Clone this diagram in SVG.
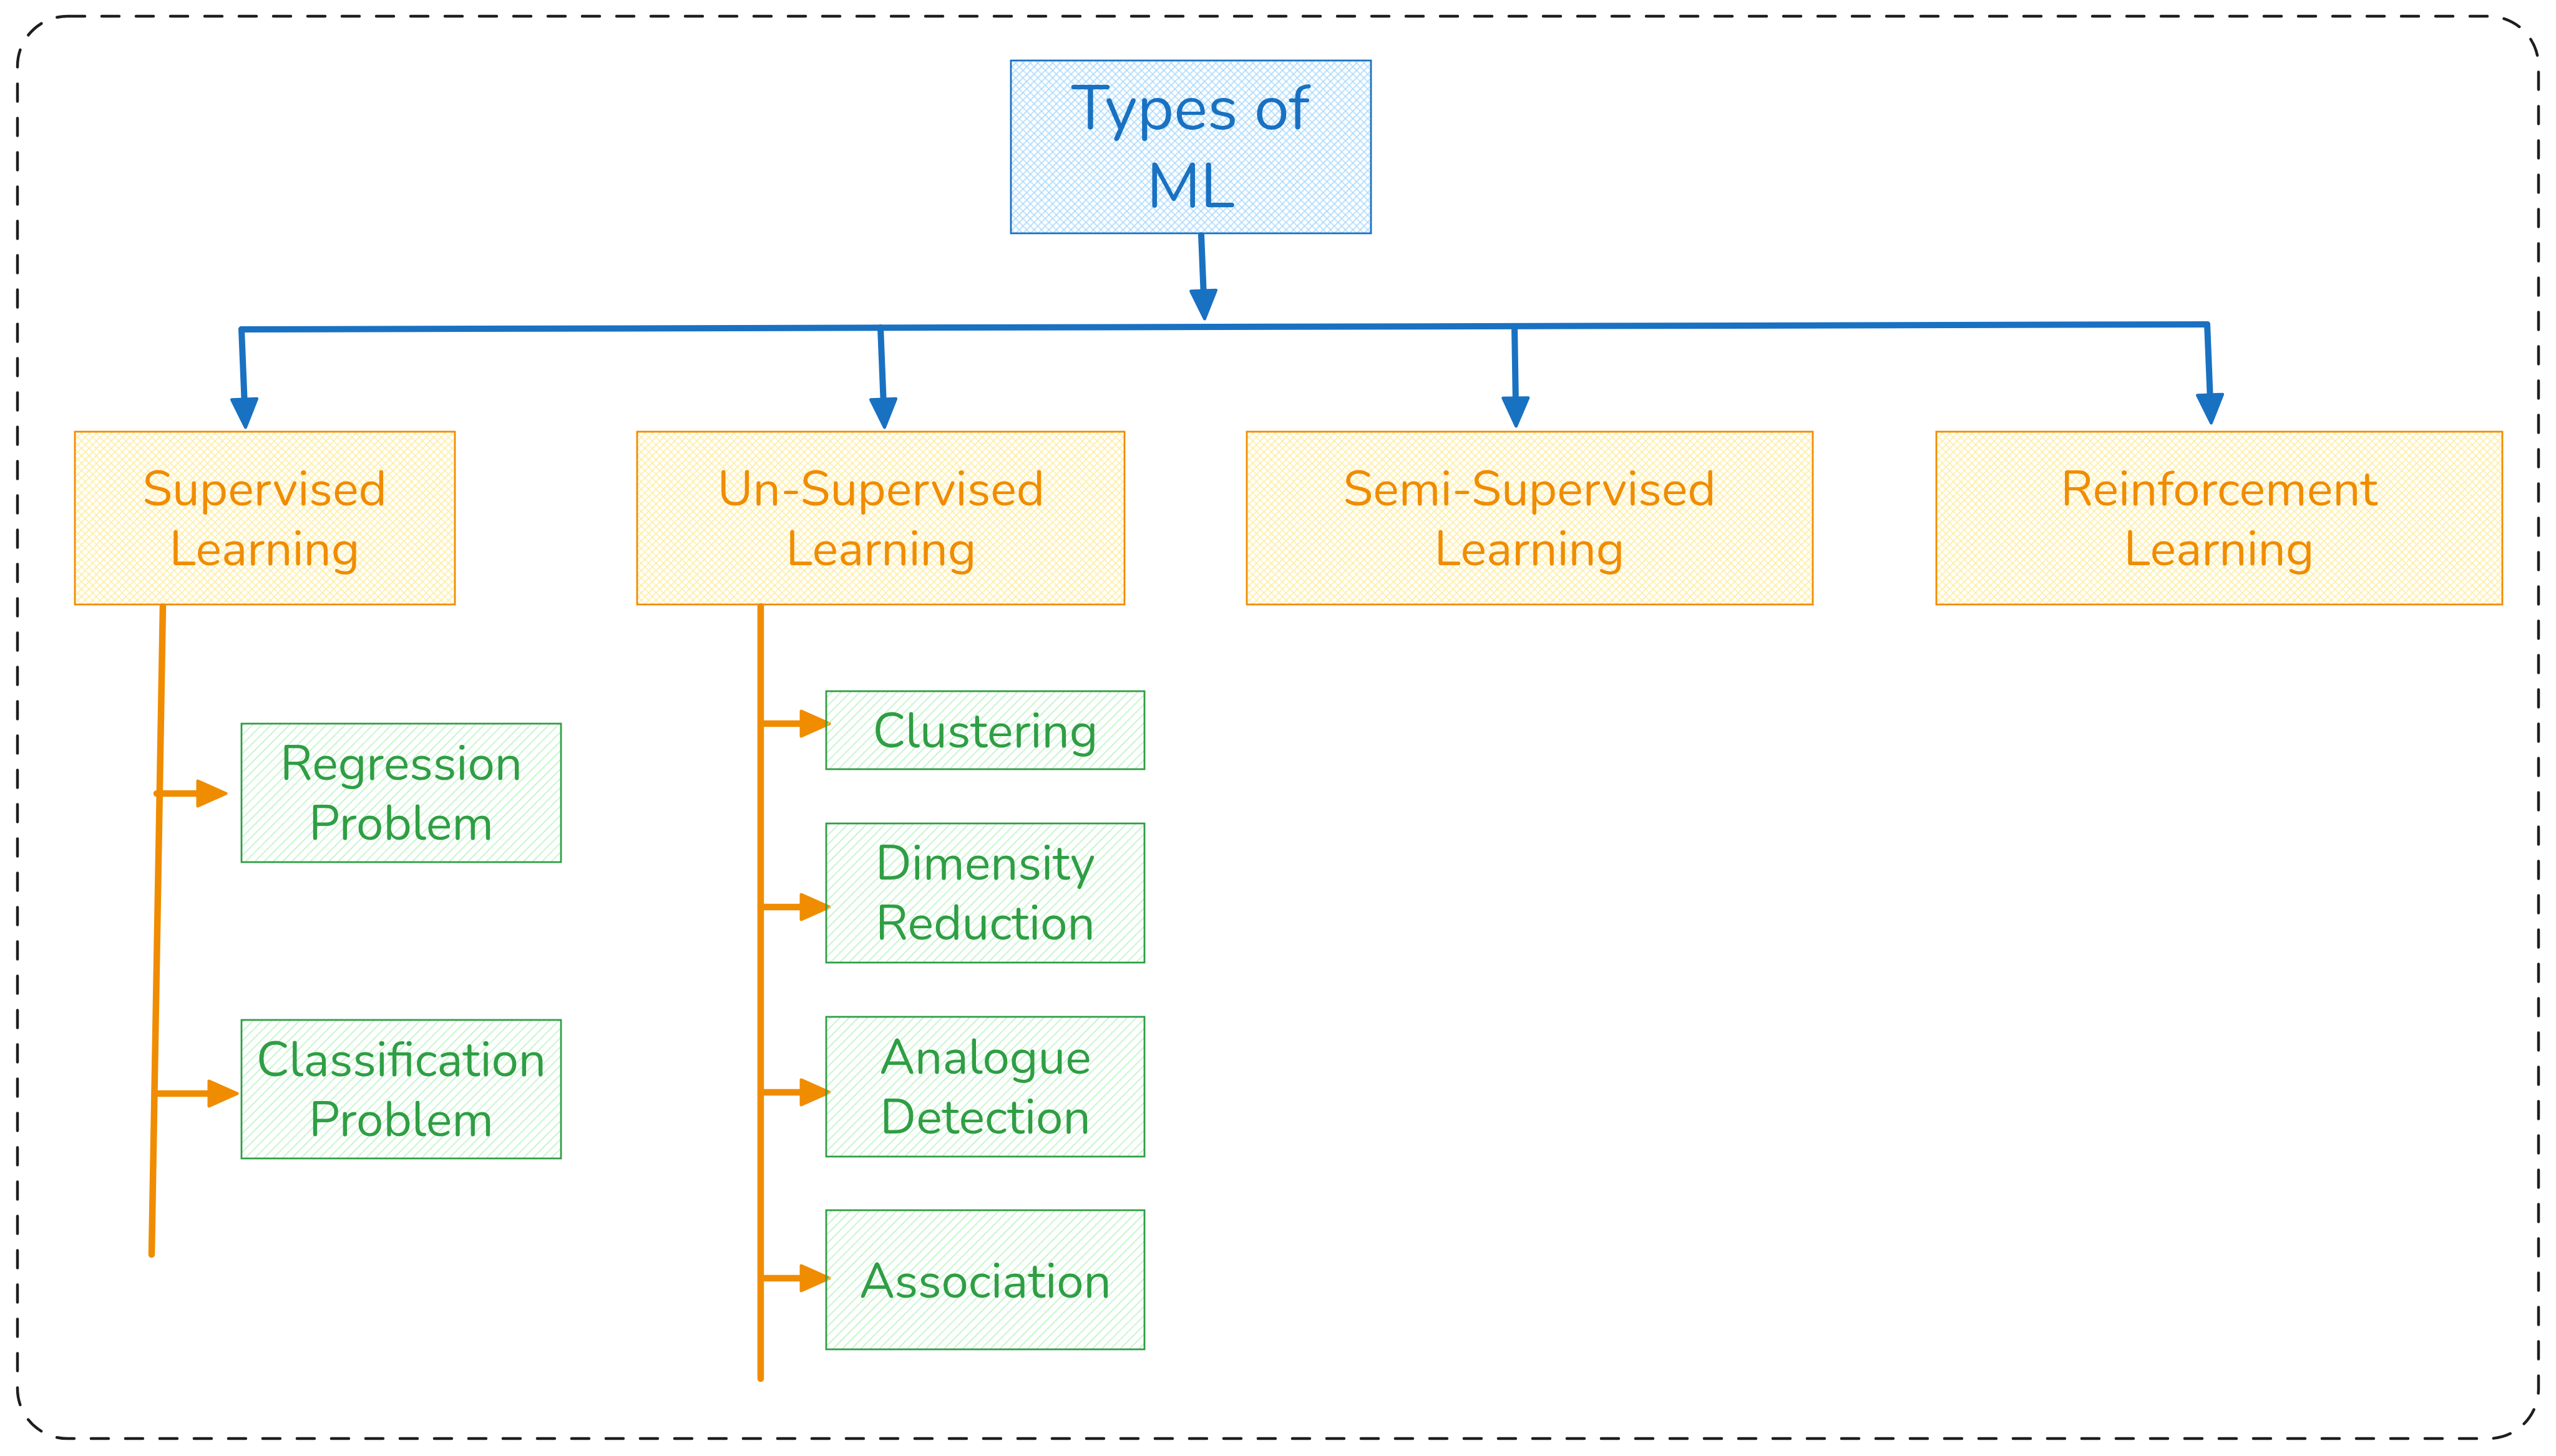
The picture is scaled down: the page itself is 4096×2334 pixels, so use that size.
<svg xmlns="http://www.w3.org/2000/svg" width="4096" height="2334" viewBox="0 0 4096 2334">
<defs>
<pattern id="hBlue" patternUnits="userSpaceOnUse" width="8.4" height="8.4" patternTransform="rotate(45)"><path d="M4.2,0 V8.4 M0,4.2 H8.4" stroke="#a5d8ff" stroke-width="1.6" fill="none"/></pattern>
<pattern id="hYellow" patternUnits="userSpaceOnUse" width="8.4" height="8.4" patternTransform="rotate(45)"><path d="M4.2,0 V8.4 M0,4.2 H8.4" stroke="#ffec99" stroke-width="1.6" fill="none"/></pattern>
<pattern id="hGreen" patternUnits="userSpaceOnUse" width="10.5" height="10.5" patternTransform="rotate(45)"><path d="M5.25,0 V10.5" stroke="#b2f2bb" stroke-width="1.5" fill="none"/></pattern>
<marker id="aBlue" markerUnits="userSpaceOnUse" viewBox="-4 -26 56 52" markerWidth="56" markerHeight="52" refX="10" refY="0" orient="auto" overflow="visible"><path d="M0,-20 L45,0 L0,20 Z" fill="#1971c2" stroke="#1971c2" stroke-width="5" stroke-linejoin="round"/></marker>
<marker id="aOrange" markerUnits="userSpaceOnUse" viewBox="-4 -26 56 52" markerWidth="56" markerHeight="52" refX="10" refY="0" orient="auto" overflow="visible"><path d="M0,-20 L45,0 L0,20 Z" fill="#f08c00" stroke="#f08c00" stroke-width="5" stroke-linejoin="round"/></marker>
</defs>
<style>
text{font-family:"Nunito","Noto Sans","Open Sans",sans-serif;text-anchor:middle}
.tb{fill:#1971c2;font-size:101px}
.to{fill:#f08c00;font-size:78px}
.tg{fill:#2f9e44;font-size:78px}
.nb{fill:url(#hBlue);stroke:#1971c2;stroke-width:2.8}
.no{fill:url(#hYellow);stroke:#f08c00;stroke-width:2.8}
.ng{fill:url(#hGreen);stroke:#2f9e44;stroke-width:2.8}
.cb{fill:none;stroke:#1971c2;stroke-width:10;stroke-linecap:round;stroke-linejoin:round}
.co{fill:none;stroke:#f08c00;stroke-width:10.5;stroke-linecap:round;stroke-linejoin:round}
</style>
<rect x="0" y="0" width="4096" height="2334" fill="#ffffff"/>
<rect id="frame" x="28" y="26" width="4040" height="2280" rx="80" ry="80" fill="none" stroke="#1e1e1e" stroke-width="4.5" stroke-dasharray="28 27" stroke-linecap="round"/>

<g id="connectors">
<path class="cb" d="M1925,377 L1929,476" marker-end="url(#aBlue)"/>
<path class="cb" d="M387,528 L3537,520"/>
<path class="cb" d="M387,528 L392,650" marker-end="url(#aBlue)"/>
<path class="cb" d="M1411,525 L1416,650" marker-end="url(#aBlue)"/>
<path class="cb" d="M2427,523 L2429,648" marker-end="url(#aBlue)"/>
<path class="cb" d="M3537,520 L3542,643" marker-end="url(#aBlue)"/>

<path class="co" d="M261,972 L243,2011"/>
<path class="co" d="M251,1272 L327,1272" marker-end="url(#aOrange)"/>
<path class="co" d="M248,1753 L345,1753" marker-end="url(#aOrange)"/>

<path class="co" d="M1219,972 L1219,2210"/>
<path class="co" d="M1219,1160 L1294,1160" marker-end="url(#aOrange)"/>
<path class="co" d="M1219,1454 L1294,1454" marker-end="url(#aOrange)"/>
<path class="co" d="M1219,1751 L1294,1751" marker-end="url(#aOrange)"/>
<path class="co" d="M1219,2049 L1294,2049" marker-end="url(#aOrange)"/>
</g>

<g id="types-of-ml">
<rect class="nb" x="1620" y="97" width="577" height="277"/>
<text class="tb"><tspan x="1908" y="207">Types of</tspan><tspan x="1908" y="332">ML</tspan></text>
</g>

<g id="supervised">
<rect class="no" x="120" y="692" width="609" height="277"/>
<text class="to"><tspan x="424" y="810">Supervised</tspan><tspan x="424" y="906">Learning</tspan></text>
</g>
<g id="unsupervised">
<rect class="no" x="1021" y="692" width="781" height="277"/>
<text class="to"><tspan x="1412" y="810">Un-Supervised</tspan><tspan x="1412" y="906">Learning</tspan></text>
</g>
<g id="semisupervised">
<rect class="no" x="1998" y="692" width="907" height="277"/>
<text class="to"><tspan x="2451" y="810">Semi-Supervised</tspan><tspan x="2451" y="906">Learning</tspan></text>
</g>
<g id="reinforcement">
<rect class="no" x="3103" y="692" width="907" height="277"/>
<text class="to"><tspan x="3556" y="810">Reinforcement</tspan><tspan x="3556" y="906">Learning</tspan></text>
</g>

<g id="regression">
<rect class="ng" x="387" y="1160" width="512" height="222"/>
<text class="tg"><tspan x="643" y="1250">Regression</tspan><tspan x="643" y="1346">Problem</tspan></text>
</g>
<g id="classification">
<rect class="ng" x="387" y="1635" width="512" height="222"/>
<text class="tg"><tspan x="643" y="1725">Classification</tspan><tspan x="643" y="1821">Problem</tspan></text>
</g>

<g id="clustering">
<rect class="ng" x="1324" y="1108" width="510" height="125"/>
<text class="tg" x="1579" y="1198">Clustering</text>
</g>
<g id="dimensity">
<rect class="ng" x="1324" y="1320" width="510" height="223"/>
<text class="tg"><tspan x="1579" y="1410">Dimensity</tspan><tspan x="1579" y="1506">Reduction</tspan></text>
</g>
<g id="analogue">
<rect class="ng" x="1324" y="1630" width="510" height="224"/>
<text class="tg"><tspan x="1579" y="1721">Analogue</tspan><tspan x="1579" y="1817">Detection</tspan></text>
</g>
<g id="association">
<rect class="ng" x="1324" y="1940" width="510" height="223"/>
<text class="tg" x="1579" y="2080">Association</text>
</g>
</svg>
